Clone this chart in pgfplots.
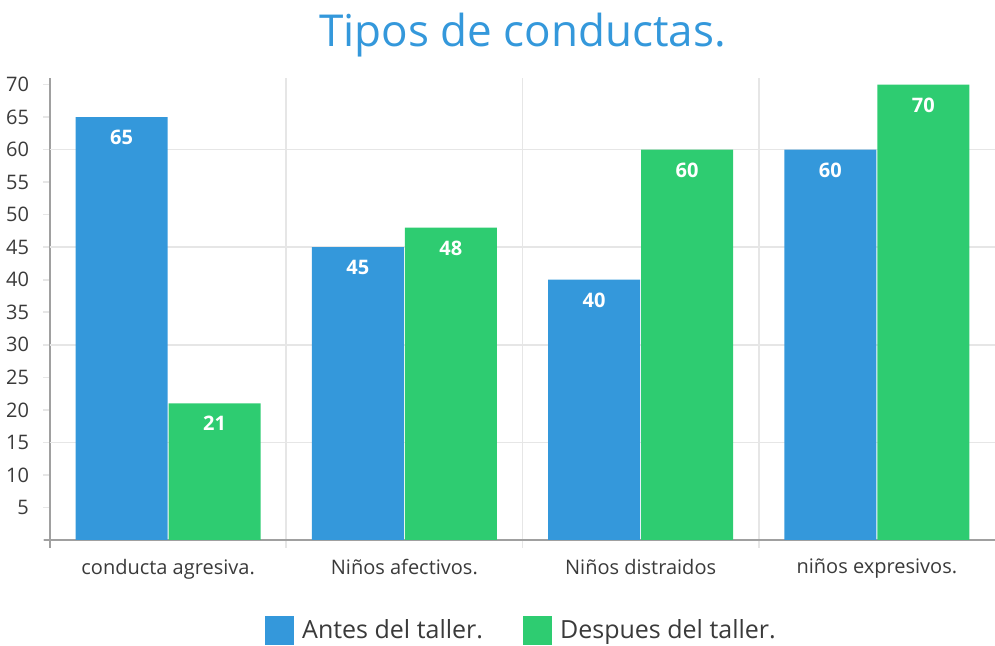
\documentclass[border=0pt]{standalone}
\usepackage{pgfplots}
\pgfplotsset{compat=1.18}
\usepackage{fontspec}
\setmainfont{Open Sans}
\definecolor{cblue}{HTML}{3498DB}
\definecolor{cgreen}{HTML}{2ECC71}
\definecolor{ctext}{HTML}{3A3A3A}
\definecolor{cgrid}{HTML}{E6E6E6}
\definecolor{caxis}{HTML}{A0A0A0}
\begin{document}
\begin{tikzpicture}
\useasboundingbox (-25pt,-53pt) rectangle (472.5pt,270pt);
\begin{axis}[
  at={(0,0)}, anchor=south west,
  scale only axis, width=472.5pt, height=231pt,
  ybar=0.5pt, bar width=46pt,
  xmin=-0.5, xmax=3.5, ymin=0, ymax=71,
  xtick={0,1,2,3},
  xticklabels={conducta agresiva., Niños afectivos., Niños distraidos, niños expresivos.},
  major x tick style={draw=none},
  minor xtick={-0.5,0.5,1.5,2.5},
  xminorgrids, minor grid style={cgrid, line width=0.8pt},
  minor tick length=4pt,
  minor x tick style={cgrid, line width=0.8pt},
  ytick={0,5,...,70},
  yticklabels={,5,10,15,20,25,30,35,40,45,50,55,60,65,70},
  major tick length=3.5pt,
  major y tick style={cgrid, line width=0.8pt},
  extra y ticks={15,30,45,60},
  extra y tick labels={},
  extra y tick style={grid=major, major grid style={cgrid, line width=0.8pt}, major tick length=0pt},
  tick align=outside,
  axis x line*=bottom, axis y line*=left,
  axis line style={caxis, line width=1pt, -},
  x axis line style={shorten <=-3pt},
  y axis line style={shorten <=-4pt},
  /pgf/number format/assume math mode=true,
  tick label style={font=\fontsize{10}{12}\selectfont, text=ctext},
  xticklabel style={yshift=-2.5pt},
  yticklabel style={xshift=-3.5pt},
  title={Tipos de conductas.},
  title style={at={(0.5,1)}, anchor=base, yshift=9.5pt, font=\fontsize{22}{26}\selectfont, text=cblue},
  nodes near coords,
  every node near coord/.append style={anchor=north, yshift=-3pt, font=\bfseries\fontsize{10}{12}\selectfont, text=white},
  legend columns=2,
  legend style={at={(0.5,0)}, anchor=center, yshift=-45.5pt, draw=none, font=\fontsize{12.5}{15}\selectfont, text=ctext,
    /tikz/every even column/.append style={column sep=18pt},
    /tikz/every odd column/.append style={column sep=2pt}},
  legend image code/.code={\fill[#1] (0pt,-7.25pt) rectangle (14.5pt,7.25pt);},
  legend cell align=left,
]
\addplot[fill=cblue, draw=none] coordinates {(0,65) (1,45) (2,40) (3,60)};
\addplot[fill=cgreen, draw=none] coordinates {(0,21) (1,48) (2,60) (3,70)};
\legend{Antes del taller., Despues del taller.}
\end{axis}
\end{tikzpicture}
\end{document}
